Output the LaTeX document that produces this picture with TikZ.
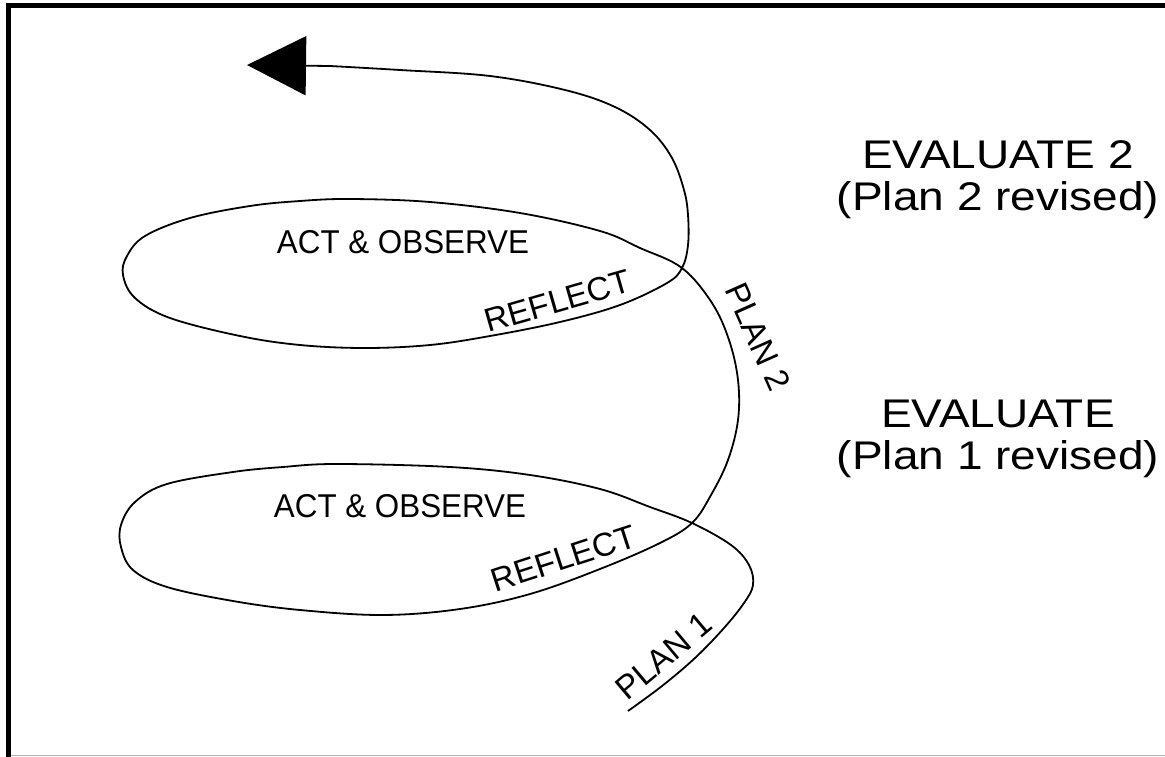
\documentclass[tikz,border=0pt]{standalone}
\usepackage{graphicx}
\usepackage{fontspec}
\setmainfont{Liberation Sans}
\usetikzlibrary{arrows.meta}
\newcommand\labfont{\fontsize{33}{38}\selectfont}
\newcommand\evfont{\fontsize{40}{42}\selectfont}
\newcommand\wide[1]{\scalebox{1.15}[1]{#1}}
\newcommand\slim[1]{\scalebox{0.95}[1]{#1}}
\begin{document}
\begin{tikzpicture}[x=1pt,y=-1pt,
  spiral/.style={line width=1.8pt, black, line join=round},
  frame/.style={line width=5.5pt, black},
  evaltext/.style={font=\evfont, align=center, inner sep=0pt, anchor=north},
  lab/.style={font=\labfont, inner sep=0pt}
  ]
\useasboundingbox (0,0) rectangle (1165,757);
\fill[white] (0,0) rectangle (1165,757);
% frame
\draw[frame] (8.5,757) -- (8.5,5.5) -- (1165,5.5);
\draw[gray!60, line width=1.5pt] (11,755.5) -- (1165,755.5);
% spiral
\draw[spiral, -{Triangle[length=59pt,width=59pt]}] plot[smooth, tension=0.6] coordinates {
 (628,711) (662,686) (695,658) (724,628) (744,603) (753,585) (749,565) (731,545)
 (692,523) (650,507) (600,489) (530,475) (450,467) (337,464) (283,467) (233,472)
 (167,484) (135,502) (121,525) (121,547) (133,570) (167,587) (233,601) (300,610)
 (383,615) (460,609) (530,594) (600,569) (660,543) (692,523) (711,495) (728,460)
 (738,420) (738,380) (729,340) (712,303) (682,268) (640,248) (600,231) (520,213)
 (430,202) (350,199) (300,201) (250,206) (190,218) (145,236) (127,256) (123,275)
 (135,298) (170,318) (240,336) (300,345) (365,348) (430,345) (490,336) (560,322)
 (620,305) (667,283) (682,268) (688,245) (688,215) (684,190) (672,158) (650,130)
 (615,107) (565,90) (490,76) (400,70) (330,66)} -- (247,65);
% labels on the spiral
\node[lab, anchor=base] (ao2) at (403,253) {\slim{ACT \& OBSERVE}};
\node[lab, anchor=base] (ao1) at (400,517) {\slim{ACT \& OBSERVE}};
\node[lab, anchor=base, rotate=16] (rf2) at (561,312) {REFLECT};
\node[lab, anchor=base, rotate=18] (rf1) at (567,569) {REFLECT};
\node[lab, rotate=-66] (pl2) at (758,337) {PLAN 2};
\node[lab, rotate=40] (pl1) at (664,656) {PLAN 1};
% evaluate labels
\node[evaltext] (ev2) at (998,140) {\wide{EVALUATE 2}\\\wide{(Plan 2 revised)}};
\node[evaltext] (ev1) at (998,400) {\wide{EVALUATE}\\\wide{(Plan 1 revised)}};
\end{tikzpicture}
\end{document}
